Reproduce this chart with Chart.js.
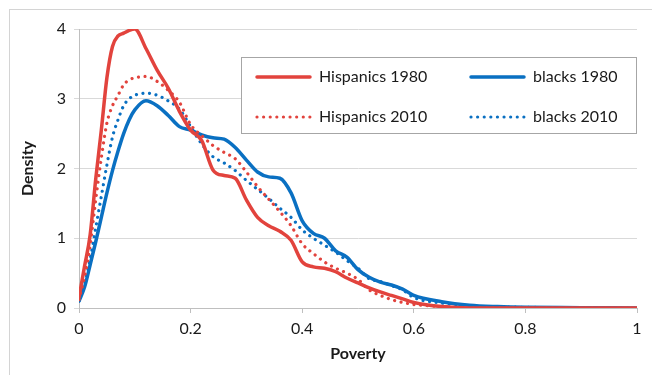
<!DOCTYPE html>
<html>
<head>
<meta charset="utf-8">
<script src="https://cdn.jsdelivr.net/npm/chart.js@4.4.1/dist/chart.umd.min.js"></script>
<style>
    html, body { margin: 0; padding: 0; background: #fff; }
    #frame {
        position: absolute;
        left: 9px;
        top: 9px;
        width: 700px;
        height: 420px;
        border: 1px solid #d4d4d4;
    }
    #wrap { position: absolute; left: 0; top: 0; width: 652px; height: 375px; }
</style>
</head>
<body>
<div id="frame"></div>
<div id="wrap"><canvas id="povertyChart"></canvas></div>
<script>
// Poverty grid (x) shared by all four density curves
const poverty = [0, 0.01, 0.02, 0.03, 0.04, 0.05, 0.06, 0.07, 0.08, 0.09, 0.10,
    0.12, 0.14, 0.16, 0.18, 0.20, 0.22, 0.24, 0.26, 0.28, 0.30,
    0.32, 0.34, 0.36, 0.38, 0.40, 0.42, 0.44, 0.46, 0.48, 0.50,
    0.52, 0.54, 0.56, 0.58, 0.60, 0.65, 0.70, 0.75, 0.80, 0.90, 1.00];

const hispanics1980 = [0.15, 0.6, 1.05, 1.85, 2.55, 3.3, 3.75, 3.9, 3.94, 3.98, 4.0,
    3.72, 3.41, 3.15, 2.82, 2.55, 2.4, 1.98, 1.9, 1.86, 1.55,
    1.3, 1.18, 1.1, 0.97, 0.66, 0.59, 0.57, 0.52, 0.43, 0.36,
    0.29, 0.23, 0.18, 0.13, 0.08, 0.02, 0, 0, 0, 0, 0];

const hispanics2010 = [0.12, 0.45, 0.9, 1.55, 2.15, 2.65, 2.9, 3.05, 3.2, 3.27, 3.3,
    3.32, 3.25, 3.12, 2.95, 2.63, 2.47, 2.33, 2.23, 2.14, 1.95,
    1.74, 1.56, 1.38, 1.18, 0.92, 0.78, 0.66, 0.57, 0.5, 0.41,
    0.26, 0.18, 0.12, 0.08, 0.05, 0.02, 0, 0, 0, 0, 0];

const blacks1980 = [0.1, 0.3, 0.62, 0.95, 1.3, 1.65, 1.97, 2.25, 2.5, 2.7, 2.84,
    2.97, 2.9, 2.76, 2.6, 2.55, 2.48, 2.44, 2.42, 2.3, 2.12,
    1.95, 1.88, 1.86, 1.65, 1.25, 1.07, 1.0, 0.82, 0.73, 0.55,
    0.44, 0.37, 0.33, 0.27, 0.18, 0.09, 0.04, 0.02, 0.01, 0.005, 0];

const blacks2010 = [0.1, 0.35, 0.7, 1.15, 1.6, 2.05, 2.45, 2.7, 2.9, 3.0, 3.05,
    3.08, 3.05, 2.97, 2.85, 2.6, 2.35, 2.17, 2.08, 1.97, 1.83,
    1.7, 1.57, 1.43, 1.3, 1.12, 1.0, 0.9, 0.8, 0.68, 0.57,
    0.42, 0.38, 0.32, 0.26, 0.15, 0.07, 0.03, 0.015, 0.01, 0, 0];

const xTicks = [0, 0.2, 0.4, 0.6, 0.8, 1];
const yTicks = [0, 1, 2, 3, 4];

const RED = '#e2433d';
const BLUE = '#0a70c2';
const DOTS = [0.01, 6.6];
const FONT = 'Lato, "Open Sans", sans-serif';

function toPoints(values) {
    return poverty.map((x, i) => ({ x: x, y: values[i] }));
}

function curve(label, values, color, dotted) {
    return {
        label: label,
        data: toPoints(values),
        borderColor: color,
        backgroundColor: color,
        borderWidth: dotted ? 3.2 : 3.5,
        borderDash: dotted ? DOTS : [],
        borderCapStyle: 'round',
        borderJoinStyle: 'round',
        pointRadius: 0,
        cubicInterpolationMode: 'monotone',
        fill: false
    };
}

// Boxed two-column legend drawn inside the plot area
const boxLegend = {
    id: 'boxLegend',
    afterDatasetsDraw(chart) {
        const ctx = chart.ctx;
        const box = { left: 241, top: 57, right: 636, bottom: 133 };
        ctx.save();
        ctx.fillStyle = '#fff';
        ctx.fillRect(box.left, box.top, box.right - box.left, box.bottom - box.top);
        ctx.strokeStyle = '#a6a6a6';
        ctx.lineWidth = 1;
        ctx.strokeRect(box.left + 0.5, box.top + 0.5, box.right - box.left, box.bottom - box.top);

        const cells = [
            { ds: 0, x: 257, y: 77 },
            { ds: 2, x: 471, y: 77 },
            { ds: 1, x: 257, y: 117 },
            { ds: 3, x: 471, y: 117 }
        ];
        ctx.font = '16px ' + FONT;
        ctx.textBaseline = 'middle';
        ctx.textAlign = 'left';
        cells.forEach(c => {
            const ds = chart.data.datasets[c.ds];
            ctx.beginPath();
            ctx.strokeStyle = ds.borderColor;
            ctx.lineWidth = ds.borderWidth;
            ctx.lineCap = 'round';
            ctx.setLineDash(ds.borderDash);
            ctx.moveTo(c.x, c.y);
            ctx.lineTo(c.x + 53, c.y);
            ctx.stroke();
            ctx.setLineDash([]);
            ctx.fillStyle = '#1a1a1a';
            ctx.fillText(ds.label, c.x + 62, c.y);
        });
        ctx.restore();
    }
};

document.addEventListener('DOMContentLoaded', function() {
    const ctx = document.getElementById('povertyChart');

    new Chart(ctx, {
        type: 'line',
        data: {
            datasets: [
                curve('Hispanics 1980', hispanics1980, RED, false),
                curve('Hispanics 2010', hispanics2010, RED, true),
                curve('blacks 1980', blacks1980, BLUE, false),
                curve('blacks 2010', blacks2010, BLUE, true)
            ]
        },
        options: {
            responsive: true,
            maintainAspectRatio: false,
            animation: false,
            layout: { padding: { left: 10, top: 29, right: 15, bottom: 0 } },
            plugins: {
                legend: { display: false },
                tooltip: { enabled: false }
            },
            scales: {
                x: {
                    type: 'linear',
                    min: 0,
                    max: 1,
                    afterFit: scale => { scale.height = 67; },
                    afterBuildTicks: scale => { scale.ticks = xTicks.map(v => ({ value: v })); },
                    grid: {
                        drawOnChartArea: false,
                        drawTicks: true,
                        tickLength: 5,
                        color: '#bfbfbf'
                    },
                    border: { color: '#bfbfbf' },
                    ticks: {
                        padding: 6,
                        color: '#1a1a1a',
                        font: { family: FONT, size: 16 },
                        maxRotation: 0,
                        callback: v => String(v)
                    },
                    title: {
                        display: true,
                        text: 'Poverty',
                        color: '#1a1a1a',
                        font: { family: FONT, size: 16, weight: 'bold' },
                        padding: { top: 0, bottom: 12 }
                    }
                },
                y: {
                    min: 0,
                    max: 4,
                    afterFit: scale => { scale.width = 69; },
                    afterBuildTicks: scale => { scale.ticks = yTicks.map(v => ({ value: v })); },
                    grid: {
                        drawTicks: true,
                        tickLength: 5,
                        color: '#d9d9d9'
                    },
                    border: { color: '#bfbfbf' },
                    ticks: {
                        padding: 8,
                        color: '#1a1a1a',
                        font: { family: FONT, size: 16 }
                    },
                    title: {
                        display: true,
                        text: 'Density',
                        color: '#1a1a1a',
                        font: { family: FONT, size: 16, weight: 'bold' },
                        padding: { top: 8, bottom: 0 }
                    }
                }
            }
        },
        plugins: [boxLegend]
    });
});
</script>
</body>
</html>
